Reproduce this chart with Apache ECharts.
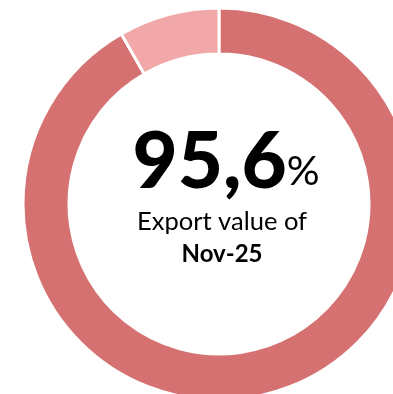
<!DOCTYPE html>
<html>
<head>
<meta charset="utf-8">
<script src="https://cdn.jsdelivr.net/npm/echarts@6/dist/echarts.min.js"></script>
<style>
  html, body { margin: 0; padding: 0; background: #ffffff; }
  #chart { width: 393px; height: 394px; }
</style>
</head>
<body>
<div id="chart"></div>
<script>
// Ring segments (share of the full circle)
const sliceNames = ['Export value', 'Remainder'];
const sliceValues = [91.7, 8.3];
const sliceColors = ['#D57271', '#F2A8A8'];

// Centre headline
const headlineValue = '95,6';
const headlineUnit = '%';
const captionLine1 = 'Export value of';
const captionLine2 = 'Nov-25';

const chart = echarts.init(document.getElementById('chart'), null, { renderer: 'canvas' });

const FONT = 'Lato, "Open Sans", sans-serif';

chart.setOption({
  animation: false,
  backgroundColor: '#ffffff',
  series: [{
    type: 'pie',
    center: [219, 204],
    radius: [150, 196],
    startAngle: 90,
    clockwise: true,
    silent: true,
    label: { show: false },
    labelLine: { show: false },
    itemStyle: { borderColor: '#ffffff', borderWidth: 3 },
    data: sliceNames.map((n, i) => ({
      name: n,
      value: sliceValues[i],
      itemStyle: { color: sliceColors[i] }
    }))
  }],
  graphic: [
    {
      type: 'text',
      x: 226,
      y: 203,
      style: {
        text: '{v|' + headlineValue + '}{u|' + headlineUnit + '}',
        textAlign: 'center',
        textVerticalAlign: 'bottom',
        rich: {
          v: { fontFamily: FONT, fontWeight: 900, fontSize: 78, fill: '#000', lineHeight: 80 },
          u: { fontFamily: FONT, fontWeight: 'normal', fontSize: 41, fill: '#000', lineHeight: 80, padding: [18, 0, 0, 0] }
        }
      }
    },
    {
      type: 'text',
      x: 222,
      y: 222,
      style: {
        text: captionLine1,
        textAlign: 'center',
        textVerticalAlign: 'middle',
        fontFamily: FONT,
        fontSize: 25.5,
        fill: '#000'
      }
    },
    {
      type: 'text',
      x: 222,
      y: 254,
      style: {
        text: captionLine2,
        textAlign: 'center',
        textVerticalAlign: 'middle',
        fontFamily: FONT,
        fontWeight: 'bold',
        fontSize: 24,
        fill: '#000'
      }
    }
  ]
});
</script>
</body>
</html>
